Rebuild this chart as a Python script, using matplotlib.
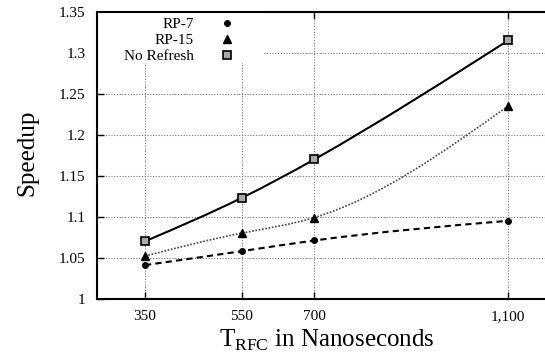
import numpy as np
import matplotlib
matplotlib.use('Agg')
import matplotlib.pyplot as plt
from matplotlib.path import Path
from matplotlib.patches import PathPatch, Rectangle
from matplotlib.lines import Line2D

# data
trfc = [350, 550, 700, 1100]
xtick_labels = ['350', '550', '700', '1,100']
rp7 = [1.041, 1.058, 1.071, 1.095]
rp15 = [1.052, 1.080, 1.099, 1.235]
no_refresh = [1.070, 1.123, 1.170, 1.315]
yticks = [1.0, 1.05, 1.1, 1.15, 1.2, 1.25, 1.3, 1.35]
ytick_labels = ['1', '1.05', '1.1', '1.15', '1.2', '1.25', '1.3', '1.35']

plt.rcParams['font.family'] = ['Liberation Serif', 'DejaVu Serif']
plt.rcParams['mathtext.fontset'] = 'custom'
plt.rcParams['mathtext.rm'] = 'Liberation Serif'


def spline_path(x, y):
    # natural cubic spline drawn as bezier segments (like gnuplot csplines)
    x = np.asarray(x, float)
    y = np.asarray(y, float)
    n = len(x)
    h = np.diff(x)
    A = np.zeros((n, n))
    b = np.zeros(n)
    A[0, 0] = A[-1, -1] = 1
    for i in range(1, n - 1):
        A[i, i - 1] = h[i - 1]
        A[i, i] = 2 * (h[i - 1] + h[i])
        A[i, i + 1] = h[i]
        b[i] = 6 * ((y[i + 1] - y[i]) / h[i] - (y[i] - y[i - 1]) / h[i - 1])
    M = np.linalg.solve(A, b)
    m = np.zeros(n)
    for i in range(n - 1):
        m[i] = (y[i + 1] - y[i]) / h[i] - h[i] * (2 * M[i] + M[i + 1]) / 6
    m[-1] = (y[-1] - y[-2]) / h[-1] + h[-1] * (M[-2] + 2 * M[-1]) / 6
    verts = [(x[0], y[0])]
    codes = [Path.MOVETO]
    for i in range(n - 1):
        verts += [(x[i] + h[i] / 3, y[i] + m[i] * h[i] / 3),
                  (x[i + 1] - h[i] / 3, y[i + 1] - m[i + 1] * h[i] / 3),
                  (x[i + 1], y[i + 1])]
        codes += [Path.CURVE4] * 3
    return Path(verts, codes)


fig = plt.figure(figsize=(5.45, 3.56), dpi=100)
ax = fig.add_axes([96.6 / 545, 57.3 / 356, 460 / 545, 287 / 356])

ax.add_patch(PathPatch(spline_path(trfc, no_refresh), fill=False, ec='black',
                       lw=1.5, zorder=2))
ax.add_patch(PathPatch(spline_path(trfc, rp15), fill=False, ec='#444444',
                       lw=1.2, ls=(0, (1, 1)), zorder=2))
ax.add_patch(PathPatch(spline_path(trfc, rp7), fill=False, ec='black',
                       lw=1.5, ls=(0, (3, 2)), zorder=2))

ax.plot(trfc, rp7, ls='none', marker='o', ms=4, color='black', zorder=3)
ax.plot(trfc, rp15, ls='none', marker='^', ms=5.5, color='black', zorder=3)
ax.plot(trfc, no_refresh, ls='none', marker='s', ms=5.5, mfc='#aaaaaa',
        mec='black', mew=1.2, zorder=3)

ax.set_xlim(250, 1200)
ax.set_ylim(1.0, 1.35)
ax.set_xticks(trfc)
ax.set_xticklabels(xtick_labels)
ax.set_yticks(yticks)
ax.set_yticklabels(ytick_labels)
ax.tick_params(direction='in', length=5, width=1, labelsize=11,
               top=True, pad=8)
ax.tick_params(axis='y', pad=8)
for s in ['left', 'bottom', 'top']:
    ax.spines[s].set_linewidth(1.5)
ax.spines['right'].set_visible(False)

ax.set_axisbelow(True)
ax.grid(True, color='#777777', lw=0.8, ls=(0, (1, 1.5)))

# white area behind the key
ax.add_patch(Rectangle((0, 0.821), 0.362, 0.179, transform=ax.transAxes,
                       fc='white', ec='none', zorder=1))

handles = [
    Line2D([], [], ls='none', marker='o', ms=4, color='black'),
    Line2D([], [], ls='none', marker='^', ms=5.5, color='black'),
    Line2D([], [], ls='none', marker='s', ms=5.5, mfc='#aaaaaa', mec='black', mew=1.2),
]
ax.legend(handles, ['RP-7', 'RP-15', 'No Refresh'], loc='upper right',
          bbox_to_anchor=(0.317, 1.006), markerfirst=False, frameon=False,
          fontsize=11, borderpad=0, handlelength=1.0, handletextpad=1.66,
          labelspacing=0.15)

ax.set_ylabel('Speedup', fontsize=18)
ax.yaxis.set_label_coords(-0.127, 0.51)
ax.set_xlabel(r'T$_{\mathrm{RFC}}$ in Nanoseconds', fontsize=18)
ax.xaxis.set_label_coords(0.5, -0.1)

fig.savefig('out.png', dpi=100)
